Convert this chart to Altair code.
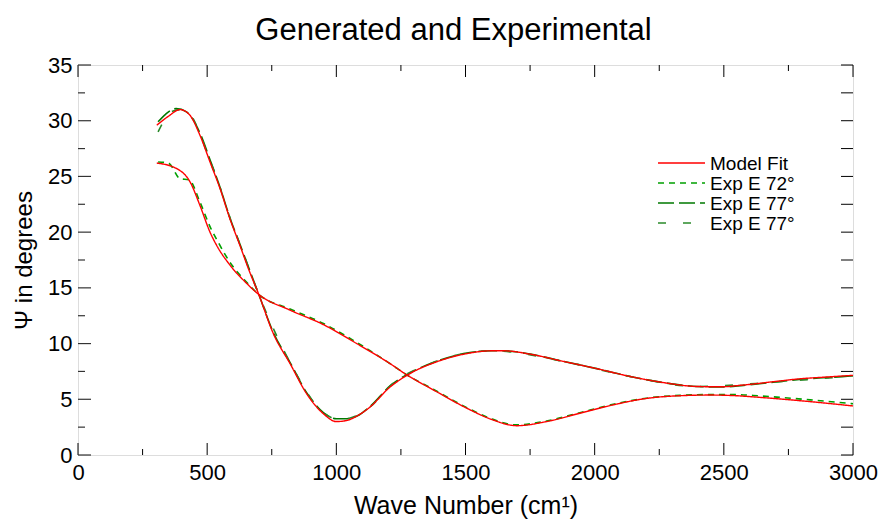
import altair as alt
import pandas as pd

# ---------------- data ----------------
model_a_x = [305, 350, 395, 433, 472, 511, 550, 588, 627, 660, 700, 756, 821, 885, 950, 1000,
             1040, 1080, 1130, 1208, 1246, 1300, 1375, 1505, 1600, 1650, 1750, 1879, 2008,
             2137, 2266, 2395, 2485, 2576, 2700, 2800, 2900, 3000]
model_a_y = [29.6, 30.4, 31.0, 30.5, 28.7, 26.3, 23.9, 21.2, 18.8, 16.7, 14.4, 10.9, 8.2, 5.5, 3.7, 3.0,
             3.1, 3.5, 4.3, 6.1, 6.75, 7.5, 8.25, 9.1, 9.35, 9.35, 9.05, 8.4, 7.75,
             7.05, 6.5, 6.15, 6.12, 6.28, 6.6, 6.85, 7.0, 7.15]

model_b_x = [305, 382, 434, 472, 511, 537, 588, 653, 700, 821, 950, 1079, 1208, 1272, 1375, 1505,
             1600, 1698, 1814, 1943, 2072, 2201, 2330, 2446, 2540, 2640, 2834, 3000]
model_b_y = [26.2, 25.7, 24.5, 22.4, 20.0, 18.8, 17.05, 15.4, 14.4, 13.0, 11.7, 10.0, 8.2, 7.2, 5.85, 4.2,
             3.2, 2.63, 3.0, 3.75, 4.5, 5.08, 5.32, 5.38, 5.33, 5.17, 4.79, 4.4]

exp72_x = [310, 350, 395, 430, 472, 511, 545, 588, 653, 700, 821, 950, 1079, 1208, 1272, 1375, 1505,
           1600, 1698, 1814, 1943, 2072, 2201, 2330, 2446, 2540, 2640, 2834, 3000]
exp72_y = [26.3, 26.2, 24.8, 24.7, 22.7, 20.5, 19.0, 17.3, 15.5, 14.4, 13.1, 11.8, 10.1, 8.2, 7.2, 5.9, 4.25,
           3.25, 2.7, 3.05, 3.8, 4.55, 5.1, 5.35, 5.42, 5.42, 5.3, 4.95, 4.6]

exp77a_x = [310, 340, 380, 420, 472, 511, 550, 588, 627, 700, 756, 821, 885, 950, 1000, 1040, 1080,
            1130, 1208, 1300, 1375, 1505, 1600, 1650, 1750, 1879, 2008, 2137, 2266, 2395, 2485,
            2576, 2700, 2800, 2900, 3000]
exp77a_y = [29.9, 30.6, 31.1, 30.8, 28.9, 26.5, 24.0, 21.3, 18.9, 14.4, 11.0, 8.3, 5.6, 3.8, 3.25, 3.25, 3.5,
            4.35, 6.2, 7.55, 8.3, 9.15, 9.35, 9.35, 9.05, 8.4, 7.75, 7.05, 6.5, 6.15, 6.1,
            6.25, 6.55, 6.8, 6.95, 7.1]

exp77b_x = [310, 330, 360, 400, 440, 472, 511, 550, 588, 627, 700, 821, 950, 1010, 1050, 1130, 1208,
            1375, 1600, 1879, 2137, 2395, 2700, 3000]
exp77b_y = [29.0, 29.9, 30.8, 31.0, 30.4, 28.8, 26.4, 24.0, 21.3, 18.9, 14.4, 8.3, 3.8, 3.2, 3.3, 4.3, 6.2,
            8.3, 9.35, 8.4, 7.05, 6.15, 6.55, 7.1]

series_domain = ["Model Fit", "Exp E 72°", "Exp E 77°", "Exp E 77° "]
series_colors = ["#ff0000", "#00a000", "#007800", "#2a8a2a"]
series_dashes = [[1, 0], [6, 5], [16, 5], [8, 17]]

x_major = [0, 500, 1000, 1500, 2000, 2500, 3000]
x_minor = [250, 750, 1250, 1750, 2250, 2750]
y_major = [0, 5, 10, 15, 20, 25, 30, 35]
y_minor = [2.5, 7.5, 12.5, 17.5, 22.5, 27.5, 32.5]

# ---------------- build tables ----------------
rows = []
def add(xs, ys, series, curve, grp):
    for a, b in zip(xs, ys):
        rows.append({"x": a, "y": b, "series": series, "curve": curve, "grp": grp})

add(exp72_x, exp72_y, "Exp E 72°", "B72", "exp")
add(exp77a_x, exp77a_y, "Exp E 77°", "A77a", "exp")
add(exp77b_x, exp77b_y, "Exp E 77° ", "A77b", "exp")
add(model_a_x, model_a_y, "Model Fit", "MA", "model")
add(model_b_x, model_b_y, "Model Fit", "MB", "model")
df = pd.DataFrame(rows)

W, H = 775, 390
FONT = "Liberation Sans"

x_scale = alt.Scale(domain=[0, 3000], nice=False, zero=False)
y_scale = alt.Scale(domain=[0, 35], nice=False, zero=False)

x_axis = alt.Axis(title="Wave Number (cm¹)", values=x_major, ticks=False, domain=False,
                  grid=False, labelFontSize=22, labelFont=FONT, labelColor="black",
                  labelPadding=7, labelFlush=False, titleFontSize=25, titleFont=FONT,
                  titleFontWeight="normal", titleColor="black", titlePadding=10, format="d")
y_axis = alt.Axis(title="Ψ in degrees", values=y_major, ticks=False, domain=False,
                  grid=False, labelFontSize=22, labelFont=FONT, labelColor="black",
                  labelPadding=6, labelFlush=False, titleFontSize=24, titleFont=FONT,
                  titleFontWeight="normal", titleColor="black", titlePadding=11, format="d")

x_enc = alt.X("x:Q", scale=x_scale, axis=x_axis)
y_enc = alt.Y("y:Q", scale=y_scale, axis=y_axis)

color_enc = alt.Color("series:N", scale=alt.Scale(domain=series_domain, range=series_colors), legend=None)
dash_enc = alt.StrokeDash("series:N", scale=alt.Scale(domain=series_domain, range=series_dashes), legend=None)

base = alt.Chart(df)
exp_layer = base.transform_filter(alt.datum.grp == "exp").mark_line(
    strokeWidth=1.6, interpolate="monotone").encode(
    x=x_enc, y=y_enc, color=color_enc, strokeDash=dash_enc, detail="curve:N")
model_layer = base.transform_filter(alt.datum.grp == "model").mark_line(
    strokeWidth=1.4, interpolate="monotone").encode(
    x=x_enc, y=y_enc, color=color_enc, strokeDash=dash_enc, detail="curve:N")

# ---------------- inward ticks ----------------
def tdf(vals, col):
    return alt.Chart(pd.DataFrame({col: vals}))

ticks = [
    tdf(x_major, "x").mark_rule(color="black", strokeWidth=1).encode(
        x=x_enc, y=alt.value(H), y2=alt.value(H - 12)),
    tdf(x_minor, "x").mark_rule(color="black", strokeWidth=1).encode(
        x=x_enc, y=alt.value(H), y2=alt.value(H - 6)),
    tdf(x_major, "x").mark_rule(color="black", strokeWidth=1).encode(
        x=x_enc, y=alt.value(0), y2=alt.value(12)),
    tdf(x_minor, "x").mark_rule(color="black", strokeWidth=1).encode(
        x=x_enc, y=alt.value(0), y2=alt.value(6)),
    tdf(y_major, "y").mark_rule(color="#333333", strokeWidth=1.2).encode(
        y=y_enc, x=alt.value(0), x2=alt.value(13)),
    tdf(y_minor, "y").mark_rule(color="#333333", strokeWidth=1.2).encode(
        y=y_enc, x=alt.value(0), x2=alt.value(7)),
    tdf(y_major + y_minor, "y").mark_rule(color="black", strokeWidth=1).encode(
        y=y_enc, x=alt.value(W), x2=alt.value(W - 12)),
]

# ---------------- legend (built from the series lists) ----------------
LEG_X, LEG_Y, LEG_ROW, LEG_LEN = 580, 98, 20, 47
legend_layers = []
for i, (name, col, dash) in enumerate(zip(series_domain, series_colors, series_dashes)):
    ld = alt.Chart(pd.DataFrame({"series": [name]}))
    yy = LEG_Y + LEG_ROW * i
    legend_layers.append(ld.mark_rule(color=col, strokeWidth=1.5, strokeDash=dash).encode(
        x=alt.value(LEG_X), x2=alt.value(LEG_X + LEG_LEN), y=alt.value(yy)))
    legend_layers.append(ld.mark_text(align="left", baseline="middle", fontSize=19, font=FONT,
                                      color="black").encode(
        x=alt.value(LEG_X + LEG_LEN + 5), y=alt.value(yy + 1), text="series:N"))

chart = alt.layer(exp_layer, model_layer, *ticks, *legend_layers).properties(
    width=W, height=H,
    padding={"left": 78, "top": 65, "right": 31, "bottom": 67},
    autosize=alt.AutoSizeParams(type="none"),
    title=alt.TitleParams("Generated and Experimental", fontSize=31, font=FONT,
                          fontWeight="normal", color="black", anchor="middle",
                          offset=7, dx=-12),
).configure_view(stroke="#222222", strokeWidth=1.5).configure(background="white")

chart.save("out.html", embed_options={"renderer": "svg", "actions": False})
